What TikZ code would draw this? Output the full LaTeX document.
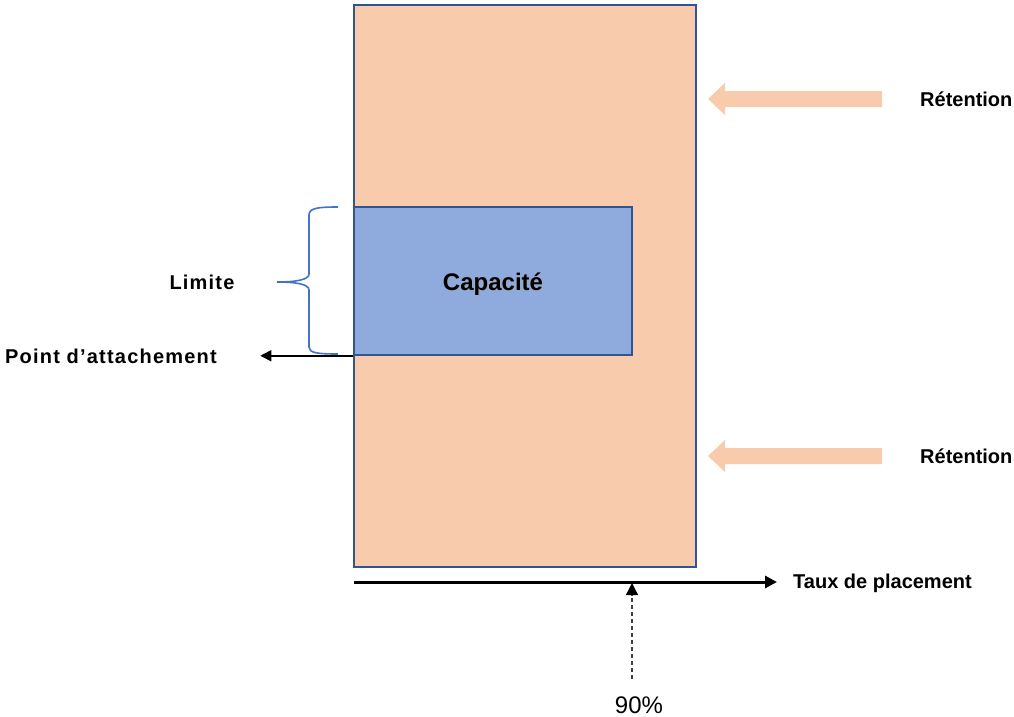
\documentclass[tikz,border=0pt]{standalone}
\usepackage{fontspec}
\setmainfont{Liberation Sans}
\usetikzlibrary{arrows.meta}

\definecolor{peche}{HTML}{F8CBAD}
\definecolor{bleucap}{HTML}{8FAADC}
\definecolor{bordbleu}{HTML}{2F5597}
\definecolor{bleuaccol}{HTML}{4472C4}

\tikzset{
    label/.style={font=\fontsize{20}{24}\selectfont\bfseries,inner sep=0pt},
    espace/.style={font=\fontsize{20}{24}\selectfont\bfseries\addfontfeatures{LetterSpace=6}},
    zone/.style={draw=bordbleu,fill=peche,line width=2pt,inner sep=0pt},
    capbox/.style={draw=bordbleu,fill=bleucap,line width=1.5pt,inner sep=0pt},
    captitre/.style={font=\fontsize{24}{28}\selectfont\bfseries,inner sep=0pt},
    retention/.style={fill=peche,draw=none},
    attach/.style={line width=1.5pt,-{Triangle[length=11pt,width=11pt]}},
    axe/.style={line width=3pt,-{Triangle[length=12pt,width=12pt]}},
    seuil/.style={draw=black!75,line width=1.3pt,dash pattern=on 4pt off 3pt,-{Triangle[length=12pt,width=12pt,color=black]}}
}

\begin{document}
\begin{tikzpicture}[x=1pt,y=-1pt]
    \useasboundingbox (0,0) rectangle (1014,717);

    % zone de stockage et capacite
    \node[zone,minimum width=342pt,minimum height=562pt] (zone) at (525,286) {};
    \node[capbox,minimum width=278pt,minimum height=148pt] (capacite) at (493,281) {};
    \node[captitre,text=black!35,opacity=0.6] (capombre) at (494.5,285.5) {Capacité};
    \node[captitre] (captexte) at (493,284) {Capacité};

    % fleches de retention
    \draw[retention] (882,91) -- (725,91) -- (725,83) -- (708,99) -- (725,115) -- (725,107) -- (882,107) -- cycle;
    \draw[retention] (882,448) -- (725,448) -- (725,440) -- (708,456) -- (725,472) -- (725,464) -- (882,464) -- cycle;
    \node[label,anchor=west] (rethaut) at (920,99) {Rétention};
    \node[label,anchor=west] (retbas) at (920,456) {Rétention};

    % accolade de la limite
    \draw[bleuaccol,line width=1.6pt] (338,207) .. controls (318,207) and (309,208) .. (309,215)
        -- (309,274) .. controls (309,280) and (295,282) .. (277,282)
        .. controls (295,282) and (309,284) .. (309,290)
        -- (309,347) .. controls (309,353) and (318,354) .. (338,354);
    \node[label,espace] (limite) at (202,282) {Limite};

    % point d'attachement
    \coordinate (attachfin) at ([xshift=-93pt]capacite.south west);
    \draw[attach] (capacite.south west) -- (attachfin);
    \node[label,espace,anchor=west] (attache) at (5,356) {Point d’attachement};

    % axe du taux de placement
    \coordinate (axedebut) at (354,582);
    \coordinate (axefin) at (777,582);
    \draw[axe] (axedebut) -- (axefin);
    \node[label,anchor=west] (taux) at (793,583) {Taux de placement};

    % seuil 90%
    \node[font=\fontsize{24}{28}\selectfont,inner sep=0pt] (pourcent) at (639,705) {90\%};
    \coordinate (seuilbas) at (632,679);
    \coordinate (seuilhaut) at (632,583);
    \draw[seuil] (seuilbas) -- (seuilhaut);
\end{tikzpicture}
\end{document}
